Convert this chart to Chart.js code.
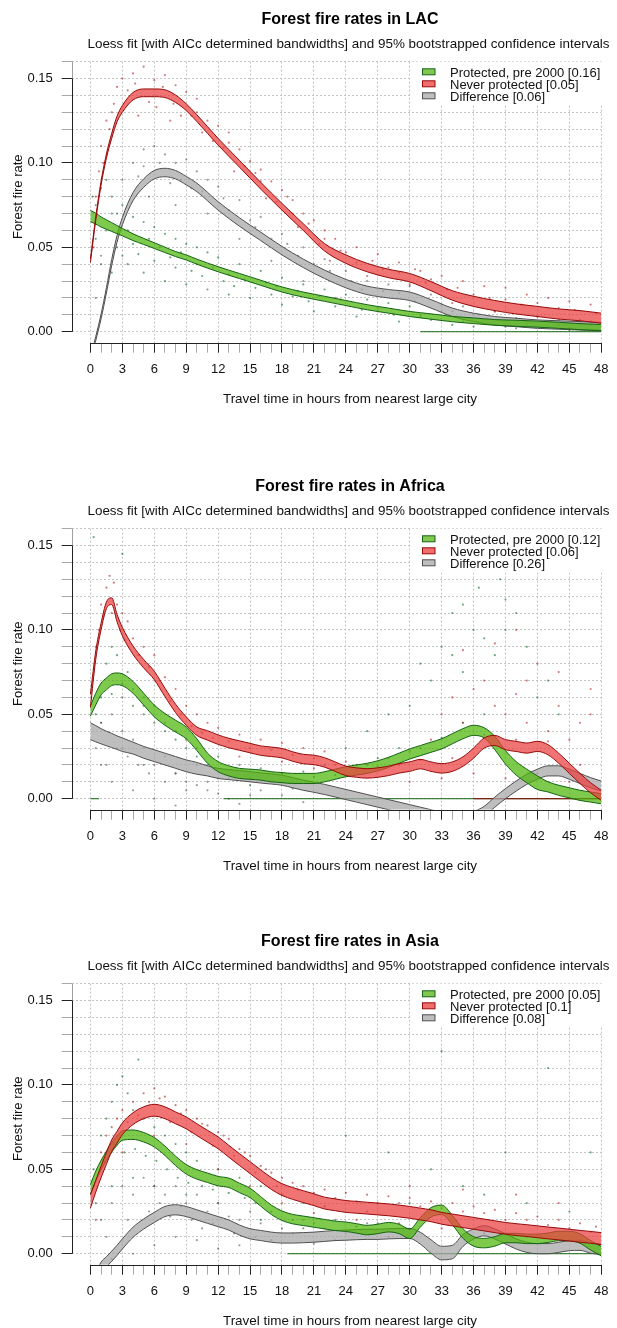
<!DOCTYPE html>
<html>
<head>
<meta charset="utf-8">
<script src="https://cdn.jsdelivr.net/npm/chart.js@4.4.1/dist/chart.umd.min.js"></script>
<style>
  html, body { margin: 0; padding: 0; background: #fff; overflow: hidden; }
  .panel { position: absolute; left: 0; width: 617px; height: 460px; }
</style>
</head>
<body>
<div class="panel" style="top:0px"><canvas id="lac" width="617" height="460"></canvas></div>
<div class="panel" style="top:467px"><canvas id="africa" width="617" height="460"></canvas></div>
<div class="panel" style="top:922px"><canvas id="asia" width="617" height="460"></canvas></div>
<script>
// ---- axis ticks ----
const xTickValues = [0,1,2,3,4,5,6,7,8,9,10,11,12,13,14,15,16,17,18,19,20,21,22,23,24,
  25,26,27,28,29,30,31,32,33,34,35,36,37,38,39,40,41,42,43,44,45,46,47,48];
const yTickValues = [0,0.01,0.02,0.03,0.04,0.05,0.06,0.07,0.08,0.09,0.1,0.11,0.12,0.13,0.14,0.15,0.16];
const yTickLabels = ['0.00','','','','','0.05','','','','','0.10','','','','','0.15',''];

// ---- LAC ----
const lacHours = [0,0.5,1,1.5,2,2.5,3,4,5,6,7,8,9,10,12,14,16,18,20,22,24,26,28,30,32,34,36,38,40,42,44,46,48];
const lacGreenMid = [0.0685,0.067,0.065,0.0635,0.062,0.0605,0.059,0.056,0.0535,0.051,0.0485,0.046,0.044,0.0415,0.037,0.033,
  0.029,0.025,0.022,0.0195,0.017,0.0145,0.0125,0.0105,0.009,0.0075,0.0065,0.0055,0.005,0.0045,0.0038,0.003,0.0025];
const lacGreenHalf = [0.0033,0.0032,0.003,0.0028,0.0026,0.0024,0.0022,0.002,0.0018,0.0017,0.0016,0.0015,0.0015,0.0015,0.0015,0.0015,
  0.0015,0.0015,0.0015,0.0015,0.0015,0.0015,0.0015,0.0015,0.0016,0.0016,0.0017,0.0017,0.0018,0.0018,0.0018,0.0018,0.0018];
const lacRedMid = [0.042,0.067,0.088,0.104,0.116,0.126,0.132,0.1395,0.1415,0.1415,0.141,0.138,0.133,0.1265,0.1125,0.0995,
  0.0865,0.074,0.062,0.05,0.043,0.038,0.0345,0.032,0.027,0.0215,0.018,0.0155,0.0135,0.012,0.0105,0.0095,0.008];
const lacRedHalf = [0.001,0.001,0.0012,0.0013,0.0015,0.0017,0.002,0.0022,0.0023,0.0023,0.0023,0.0022,0.002,0.002,0.002,0.002,
  0.002,0.002,0.002,0.0022,0.0025,0.0025,0.0025,0.0025,0.0027,0.0028,0.003,0.003,0.003,0.003,0.003,0.003,0.003];
const lacGreyMid = [-0.016,-0.004,0.009,0.0245,0.041,0.055,0.0655,0.08,0.088,0.093,0.0943,0.093,0.0895,0.0855,0.0745,0.065,
  0.0565,0.048,0.0405,0.034,0.0285,0.0245,0.0225,0.021,0.0165,0.0115,0.0085,0.0065,0.0055,0.0045,0.004,0.0035,0.003];
const lacGreyHalf = [0.001,0.0012,0.0014,0.0016,0.0018,0.002,0.0022,0.0024,0.0025,0.0025,0.0025,0.0025,0.0025,0.0025,0.0025,0.0025,
  0.0025,0.0025,0.0025,0.0025,0.0025,0.0025,0.0025,0.0025,0.0025,0.0025,0.0025,0.0025,0.0025,0.0025,0.0025,0.0025,0.0025];
const lacGreenZero = [31, 48];
const lacRedZero = [];
const lacRedDots = [[0.5,0.08],[1,0.11],[1.5,0.125],[2,0.13],[2.5,0.145],[3,0.15],[4,0.153],[5,0.157],[6,0.149],[7,0.152],
  [8,0.146],[9,0.142],[10,0.138],[11,0.125],[12,0.122],[13,0.118],[14,0.108],[15,0.101],[16,0.096],[17,0.089],[18,0.084],
  [19,0.078],[20,0.07],[21,0.066],[22,0.06],[23,0.055],[25,0.05],[27,0.046],[29,0.041],[31,0.036],[33,0.033],[35,0.03],
  [37,0.027],[39,0.026],[41,0.022],[43,0.02],[45,0.018],[47,0.016],[4.5,0.128],[7.5,0.125],[10.5,0.118],[13.5,0.095],
  [16.5,0.079],[19.5,0.062],[22.5,0.042],[26,0.033],[30,0.028],[34,0.017],[38,0.012],[42,0.009],[46,0.006],
  [0.3,0.05],[0.8,0.095],[1.2,0.1],[1.8,0.12],[2.2,0.135],[3.5,0.143],[4.2,0.147],[5.5,0.136],[6.2,0.133],[6.8,0.145],
  [7.8,0.135],[8.5,0.128],[9.5,0.128],[10,0.13],[11.5,0.113],[12.5,0.109],[13,0.112],[14.5,0.098],[15.5,0.094],
  [16,0.089],[17.5,0.077],[18.5,0.08],[19,0.07],[20.5,0.064],[21.5,0.052],[22,0.055],[23.5,0.048],[24,0.047],
  [25,0.041],[26.5,0.042],[27.5,0.037],[28,0.038],[29,0.035],[30.5,0.037],[31.5,0.029],[32,0.031],[33.5,0.025],
  [34.5,0.026],[36,0.022],[37.5,0.02],[39,0.019],[40.5,0.016],[42,0.017],[44,0.014],[45.5,0.013],[47.5,0.011]];
const lacGreyDots = [[0.5,0.02],[1,0.045],[2,0.07],[3,0.09],[4,0.1],[5,0.108],[6,0.11],[7,0.105],[8,0.1],[9,0.102],[10,0.095],
  [11,0.09],[12,0.086],[14,0.078],[16,0.068],[18,0.058],[20,0.05],[22,0.043],[24,0.036],[26,0.03],[28,0.028],[30,0.027],
  [32,0.022],[35,0.015],[38,0.012],[42,0.009],[46,0.007],[3.5,0.06],[5.5,0.08],[8,0.075],[11,0.07],[14,0.055],[17,0.042],
  [20,0.03],[23,0.02],[27,0.014],[31,0.01],[36,0.003],[40,0.002],[45,0.001],
  [4.5,0.092],[5,0.098],[6.5,0.1],[7.5,0.088],[8.5,0.09],[9.5,0.085],[10.5,0.083],[12.5,0.079],[13,0.072],[15,0.066],
  [15.5,0.062],[17,0.055],[18.5,0.052],[19.5,0.045],[21,0.04],[22.5,0.036],[24.5,0.03],[25.5,0.025],[27.5,0.024],
  [29,0.023],[30.5,0.018],[33,0.016],[34,0.012],[36.5,0.01],[39,0.007],[41,0.006],[44,0.004],[47,0.004]];
const lacGreenDots = [[0.2,0.08],[0.5,0.075],[1,0.085],[1.5,0.09],[2,0.08],[2.5,0.07],[3,0.075],[4,0.068],[5,0.065],[6,0.062],
  [7,0.058],[8,0.055],[9,0.052],[10,0.05],[11,0.047],[12,0.044],[14,0.04],[16,0.036],[18,0.032],[20,0.028],[22,0.025],
  [24,0.022],[26,0.019],[28,0.017],[30,0.015],[33,0.012],[36,0.01],[40,0.008],[44,0.007],[47,0.006],[1,0.04],[2,0.035],
  [3.5,0.04],[5,0.035],[7,0.03],[9,0.028],[11,0.025],[13,0.022],[15,0.02],[18,0.016],[21,0.012],[25,0.009],[29,0.006],
  [34,0.004],[39,0.003],[45,0.002],
  [0.5,0.055],[1.5,0.06],[2.5,0.05],[3,0.045],[4,0.052],[4.5,0.046],[5.5,0.055],[6,0.042],[6.5,0.05],[7.5,0.044],
  [8,0.038],[8.5,0.047],[9.5,0.036],[10,0.04],[10.5,0.033],[11.5,0.038],[12.5,0.03],[13,0.034],[13.5,0.027],[14.5,0.031],
  [15.5,0.026],[16.5,0.029],[17,0.022],[17.5,0.027],[19,0.021],[19.5,0.024],[20.5,0.018],[21.5,0.021],[23,0.015],
  [23.5,0.019],[25.5,0.013],[27,0.012],[28.5,0.01],[31,0.009],[32,0.007],[35,0.006],[37,0.005],[41,0.004],[43,0.003]];
const lacLegend = ['Protected, pre 2000 [0.16]', 'Never protected [0.05]', 'Difference [0.06]'];

// ---- Africa ----
const africaHours = [0,0.5,1,1.5,2,2.5,3,4,5,6,7,8,9,10,11,12,13,14,15,16,17,18,19,20,21,22,23,24,25,26,27,28,29,30,
  31,32,33,34,35,36,37,38,39,40,41,42,43,44,45,46,47,48];
const africaGreenMid = [0.052,0.059,0.065,0.068,0.0705,0.071,0.0705,0.066,0.059,0.052,0.047,0.043,0.039,0.032,0.024,0.019,
  0.0165,0.015,0.0145,0.014,0.013,0.0125,0.012,0.012,0.012,0.013,0.0145,0.016,0.017,0.018,0.0195,0.0215,0.024,0.0265,
  0.0285,0.0305,0.0325,0.0355,0.0385,0.0405,0.039,0.033,0.0245,0.018,0.0135,0.0095,0.007,0.005,0.0035,0.002,0.001,0];
const africaGreenHalf = [0.003,0.0035,0.0035,0.0035,0.0035,0.0035,0.0035,0.0035,0.0035,0.0035,0.0035,0.0035,0.0035,0.0035,
  0.003,0.003,0.003,0.003,0.003,0.003,0.003,0.003,0.003,0.003,0.003,0.003,0.003,0.003,0.003,0.003,0.003,0.003,0.003,0.003,
  0.003,0.003,0.003,0.003,0.003,0.003,0.003,0.004,0.004,0.004,0.004,0.004,0.003,0.003,0.003,0.003,0.003,0.003];
const africaRedMid = [0.058,0.085,0.102,0.1145,0.117,0.107,0.099,0.088,0.08,0.073,0.063,0.0535,0.046,0.04,0.0375,0.035,
  0.033,0.0315,0.03,0.0285,0.0278,0.027,0.025,0.0235,0.023,0.0215,0.019,0.0165,0.0155,0.015,0.0155,0.0165,0.018,0.019,
  0.0205,0.019,0.018,0.019,0.022,0.027,0.033,0.0345,0.032,0.031,0.03,0.031,0.029,0.024,0.018,0.012,0.0065,0.002];
const africaRedHalf = [0.004,0.0025,0.002,0.002,0.002,0.0022,0.0025,0.0025,0.0025,0.0025,0.0025,0.0025,0.0025,0.0025,
  0.0028,0.0028,0.0028,0.0028,0.0028,0.0028,0.0028,0.0028,0.0028,0.0028,0.0028,0.0028,0.0028,0.0028,0.0028,0.0028,0.0028,
  0.0028,0.0028,0.0028,0.0028,0.0028,0.0028,0.0028,0.0028,0.003,0.003,0.003,0.003,0.003,0.003,0.003,0.003,0.003,0.003,
  0.003,0.003,0.003];
const africaGreyMid = [0.04,0.0385,0.037,0.0357,0.0345,0.0332,0.032,0.03,0.0275,0.0255,0.0235,0.0215,0.0195,0.018,0.0165,
  0.015,0.0143,0.0137,0.013,0.0123,0.0117,0.011,0.0095,0.008,0.0068,0.0055,0.004,0.0025,0.001,-0.0005,-0.002,-0.0035,
  -0.005,-0.0065,-0.008,-0.0095,-0.011,-0.012,-0.012,-0.0105,-0.0075,-0.002,0.003,0.0075,0.0115,0.0145,0.0165,0.0165,
  0.0145,0.012,0.0095,0.0075];
const africaGreyHalf = [0.005,0.0048,0.0045,0.0043,0.0042,0.004,0.004,0.0035,0.0035,0.0035,0.0035,0.0035,0.0035,0.0035,
  0.003,0.003,0.003,0.003,0.003,0.003,0.003,0.003,0.003,0.003,0.003,0.003,0.003,0.003,0.003,0.003,0.003,0.003,0.003,0.003,
  0.003,0.003,0.003,0.003,0.003,0.003,0.003,0.003,0.003,0.003,0.003,0.003,0.003,0.003,0.003,0.003,0.003,0.003];
const africaGreenZero = [0, 0.8, 12.5, 48];
const africaRedZero = [36, 48];
const africaRedDots = [[0.5,0.09],[1,0.115],[1.5,0.125],[1.8,0.132],[2.2,0.128],[2.5,0.115],[3,0.11],[3.5,0.105],[4,0.095],
  [5,0.09],[6,0.085],[7,0.072],[8,0.065],[9,0.055],[10,0.05],[11,0.045],[12,0.042],[14,0.038],[16,0.035],[18,0.033],
  [20,0.03],[22,0.028],[24,0.022],[26,0.02],[28,0.024],[30,0.028],[32,0.035],[33,0.05],[34,0.06],[35,0.045],[36,0.065],
  [37,0.07],[38,0.055],[39,0.05],[40,0.062],[41,0.045],[42,0.08],[43,0.04],[44,0.055],[45,0.035],[46,0.045],[47,0.05],
  [30,0.01],[33,0.012],[36,0.015],[39,0.012],[42,0.015],[45,0.01],[14,0.025],[18,0.022],[21,0.018],
  [0.8,0.1],[1.2,0.108],[2,0.11],[2.8,0.1],[3.2,0.094],[4.5,0.085],[5.5,0.078],[6.5,0.07],[7.5,0.058],[8.5,0.05],
  [9.5,0.043],[10.5,0.039],[11.5,0.036],[13,0.034],[15,0.03],[17,0.029],[19,0.026],[21,0.024],[23,0.02],[25,0.017],
  [27,0.019],[29,0.02],[31,0.023],[34,0.024],[37,0.038],[40,0.035],[43,0.034],[46,0.02],[35,0.088],[38,0.092],
  [41,0.07],[44,0.075],[47,0.065],[40,0.1]];
const africaGreenDots = [[0.3,0.155],[0.5,0.05],[1,0.06],[1.5,0.08],[2,0.09],[2.5,0.085],[3,0.145],[3.5,0.075],[4,0.065],
  [5,0.06],[6,0.055],[7,0.045],[8,0.04],[9,0.035],[10,0.03],[12,0.025],[14,0.02],[16,0.018],[18,0.015],[20,0.016],
  [22,0.02],[24,0.03],[26,0.04],[28,0.05],[30,0.055],[31,0.08],[32,0.07],[33,0.09],[34,0.085],[35,0.075],[36,0.1],
  [37,0.095],[38,0.085],[39,0.1],[40,0.11],[41,0.09],[42,0.06],[43,0.07],[44,0.05],[36.5,0.125],[38.5,0.13],[3,0.03],
  [5,0.02],[8,0.015],[11,0.01],[15,0.008],[19,0.006],
  [1,0.045],[2,0.062],[3,0.068],[4,0.055],[5,0.05],[6,0.045],[7,0.04],[8,0.035],[9,0.03],[10,0.025],[11,0.02],
  [13,0.012],[15,0.012],[17,0.01],[19,0.01],[21,0.013],[23,0.014],[25,0.02],[27,0.024],[29,0.03],[31,0.03],[33,0.036],
  [35,0.045],[37,0.05],[34,0.11],[35,0.115],[39,0.118]];
const africaGreyDots = [[0.5,0.03],[1,0.045],[1.5,0.02],[2,0.05],[3,0.04],[4,0.035],[5,0.03],[6,0.02],[7,0.025],[8,0.015],
  [9,0.01],[10,0.008],[11,0.005],[12,0.003],[13,0],[14,-0.003],[16,0.005],[18,0.002],[20,-0.002],[2,0.01],[4,0.005],
  [6,0],[8,-0.004],[3,0.06],[5,0.055],[1,0.02],[2.5,0.03],[3.5,0.025],[4.5,0.02],[5.5,0.015],[7,0.01],[9,0.005],
  [10,0.02],[12,0.012],[15,0.002]];
const africaLegend = ['Protected, pre 2000 [0.12]', 'Never protected [0.06]', 'Difference [0.26]'];

// ---- Asia ----
const asiaHours = africaHours;
const asiaGreenMid = [0.038,0.046,0.0525,0.058,0.063,0.067,0.07,0.0705,0.069,0.066,0.061,0.055,0.05,0.047,0.045,0.043,
  0.042,0.039,0.036,0.031,0.026,0.0225,0.0205,0.0195,0.0185,0.0175,0.0165,0.016,0.015,0.014,0.0147,0.0157,0.0147,0.0118,
  0.0186,0.0245,0.026,0.02,0.012,0.0073,0.0063,0.0073,0.0093,0.0093,0.0088,0.0088,0.0095,0.0105,0.0105,0.009,0.005,0.0015];
const asiaGreenHalf = [0.003,0.003,0.0028,0.0028,0.0028,0.0028,0.0028,0.0028,0.0028,0.0028,0.0028,0.0028,0.0028,0.0028,
  0.0028,0.0028,0.0028,0.0028,0.0028,0.0028,0.0028,0.0028,0.0028,0.0028,0.0028,0.0028,0.0028,0.0028,0.0028,0.0028,0.0028,
  0.0028,0.0028,0.0028,0.0028,0.0028,0.0028,0.0028,0.0028,0.0028,0.0028,0.0028,0.0028,0.0028,0.0028,0.0028,0.0028,0.0028,
  0.0028,0.0028,0.0028,0.0028];
const asiaRedMid = [0.031,0.04,0.0485,0.0565,0.064,0.069,0.074,0.08,0.0835,0.085,0.0835,0.0805,0.0775,0.0735,0.0696,
  0.0657,0.0607,0.0558,0.051,0.0462,0.0416,0.038,0.0357,0.0338,0.032,0.03,0.029,0.028,0.0275,0.027,0.0265,0.026,0.0253,
  0.0245,0.0235,0.0225,0.021,0.02,0.019,0.018,0.017,0.016,0.015,0.0143,0.0137,0.013,0.0123,0.0117,0.011,0.0103,0.0097,0.009];
const asiaRedHalf = [0.004,0.0035,0.0035,0.0035,0.0035,0.0035,0.0035,0.0035,0.0035,0.0035,0.0035,0.0035,0.0035,0.0035,
  0.0035,0.0035,0.0035,0.0035,0.0035,0.0035,0.0035,0.0035,0.0035,0.0035,0.0035,0.0035,0.0035,0.0035,0.0035,0.0035,0.0035,
  0.0035,0.0035,0.0035,0.0035,0.0035,0.0035,0.0035,0.0035,0.0035,0.0035,0.0035,0.0035,0.0035,0.0035,0.0035,0.0035,0.0035,
  0.0035,0.0035,0.0035,0.0035];
const asiaGreyMid = [-0.022,-0.015,-0.008,-0.0048,-0.0015,0.002,0.0058,0.0127,0.0176,0.0215,0.025,0.026,0.025,0.023,0.021,
  0.019,0.017,0.014,0.0118,0.0108,0.0098,0.0093,0.0093,0.0095,0.0098,0.0103,0.0108,0.011,0.0113,0.0115,0.0115,0.0118,0.012,
  0.012,0.0092,0.0043,0.0004,0.001,0.0078,0.0117,0.0136,0.0117,0.0088,0.0058,0.0038,0.003,0.003,0.0038,0.0048,0.005,
  0.0033,0.0025];
const asiaGreyHalf = [0.003,0.003,0.003,0.003,0.003,0.003,0.003,0.003,0.003,0.003,0.003,0.003,0.003,0.003,0.003,0.003,
  0.003,0.003,0.003,0.003,0.003,0.003,0.003,0.003,0.003,0.003,0.003,0.003,0.003,0.003,0.003,0.003,0.003,0.003,0.0035,
  0.004,0.004,0.004,0.0035,0.003,0.003,0.003,0.003,0.003,0.003,0.003,0.003,0.003,0.003,0.003,0.003,0.003];
const asiaGreenZero = [18.5, 48];
const asiaRedZero = [];
const asiaRedDots = [[0.3,0.04],[0.5,0.02],[1,0.06],[1.5,0.07],[2,0.075],[2.5,0.08],[3,0.085],[4,0.09],[5,0.095],[6,0.098],
  [7,0.093],[8,0.088],[9,0.085],[10,0.08],[11,0.076],[12,0.072],[13,0.068],[14,0.062],[15,0.058],[16,0.052],[17,0.048],
  [18,0.045],[19,0.042],[20,0.04],[22,0.038],[24,0.036],[26,0.035],[28,0.034],[30,0.033],[32,0.031],[34,0.03],[36,0.028],
  [38,0.026],[40,0.024],[42,0.022],[44,0.02],[46,0.018],[47.5,0.016],[3,0.06],[6,0.07],[9,0.065],[12,0.05],[15,0.04],
  [18,0.03],[21,0.024],[25,0.02],[29,0.018],[33,0.015],[37,0.012],[41,0.01],[45,0.008],
  [3.5,0.078],[4.5,0.082],[5.5,0.09],[6.5,0.092],[7.5,0.078],[8.5,0.083],[9.5,0.072],[10.5,0.077],[11.5,0.064],
  [12.5,0.07],[13.5,0.058],[14.5,0.06],[15.5,0.048],[16.5,0.05],[17.5,0.04],[19.5,0.038],[21,0.036],[23,0.033],
  [25,0.031],[27,0.03],[29,0.03],[31,0.028],[33,0.027],[35,0.025],[37,0.024],[39,0.02],[41,0.02],[43,0.017],[45,0.015],
  [47,0.013],[30,0.04],[35,0.038],[40,0.035],[44,0.03]];
const asiaGreenDots = [[0.3,0.05],[0.5,0.03],[1,0.07],[1.5,0.08],[2,0.09],[2.5,0.1],[3,0.105],[3.5,0.095],[4,0.085],
  [4.5,0.115],[5,0.08],[6,0.075],[7,0.07],[8,0.065],[9,0.06],[10,0.055],[12,0.05],[14,0.045],[16,0.04],[18,0.035],
  [20,0.03],[22,0.028],[24,0.07],[26,0.025],[28,0.06],[30,0.03],[32,0.05],[33,0.12],[35,0.04],[37,0.035],[39,0.06],
  [41,0.03],[43,0.11],[45,0.025],[47,0.06],[2,0.04],[4,0.045],[6,0.04],[9,0.035],[12,0.03],[16,0.02],[20,0.015],
  [1.2,0.055],[2.2,0.065],[3.2,0.06],[4.2,0.062],[5.2,0.058],[6.2,0.055],[7.2,0.05],[8.2,0.045],[9.2,0.042],[10.5,0.04],
  [11.5,0.038],[13,0.036],[14.5,0.033],[15.5,0.03],[17,0.025],[19,0.02],[21,0.018],[23,0.02],[25,0.016],[27,0.018]];
const asiaGreyDots = [[1,0.02],[1.5,0.01],[2,0.03],[3,0.04],[4,0.035],[5,0.045],[6,0.04],[7,0.035],[8,0.04],[9,0.03],
  [10,0.035],[11,0.025],[12,0.03],[13,0.022],[14,0.02],[15,0.025],[16,0.018],[18,0.015],[20,0.02],[22,0.015],[24,0.012],
  [26,0.018],[28,0.01],[2,-0.003],[4,0],[6,0.005],[8,0.01],[10,0.008],[12,0.003],[14,0.005],
  [3.5,0.02],[5.5,0.025],[6.5,0.03],[7.5,0.022],[8.5,0.028],[9.5,0.02],[10.5,0.015],[11.5,0.018],[13.5,0.012],
  [15.5,0.01],[17,0.008],[19,0.012],[21,0.006],[23,0.008]];
const asiaLegend = ['Protected, pre 2000 [0.05]', 'Never protected [0.1]', 'Difference [0.08]'];

// ---- styling ----
const FONT = "'Liberation Sans', Arial, Helvetica, sans-serif";
Chart.defaults.font.family = FONT;
Chart.defaults.font.size = 13;
Chart.defaults.color = '#111';

const green = { fill: 'rgba(75,182,8,0.72)', edge: 'rgb(20,100,20)', key: 'rgb(130,200,80)', dot: 'rgba(20,110,40,0.6)' };
const red = { fill: 'rgba(235,62,62,0.72)', edge: 'rgb(150,10,10)', key: 'rgb(240,110,110)', dot: 'rgba(170,20,20,0.55)' };
const grey = { fill: 'rgba(168,168,168,0.75)', edge: 'rgb(80,80,80)', key: 'rgb(190,190,190)', dot: 'rgba(60,60,60,0.5)' };
const gridGrey = '#c4c4c4';

function band(label, hours, mid, half, col, order) {
  const lo = hours.map((h, i) => ({ x: h, y: mid[i] - half[i] }));
  const hi = hours.map((h, i) => ({ x: h, y: mid[i] + half[i] }));
  const common = { borderColor: col.edge, borderWidth: 1, pointRadius: 0, order, cubicInterpolationMode: 'monotone' };
  return [
    Object.assign({ label: label + ' lower', data: lo, fill: false }, common),
    Object.assign({ label, data: hi, backgroundColor: col.fill, fill: '-1' }, common)
  ];
}

function dots(label, pts, col) {
  return { type: 'scatter', label, data: pts.map(p => ({ x: p[0], y: p[1] })), pointRadius: 1.1, pointBorderWidth: 0,
    pointBackgroundColor: col.dot, showLine: false, order: 9 };
}

function zeroLines(label, span, col) {
  const out = [];
  for (let i = 0; i < span.length; i += 2) {
    out.push({ label, data: [{ x: span[i], y: 0 }, { x: span[i + 1], y: 0 }], borderColor: col.edge,
      borderWidth: 1, pointRadius: 0, fill: false, order: 5 });
  }
  return out;
}

const decor = {
  id: 'decor',
  afterDraw(chart, args, opts) {
    const { ctx, chartArea: a, scales: { x, y } } = chart;
    const px = v => Math.round(v) + 0.5;
    const seg = (x1, y1, x2, y2) => { ctx.beginPath(); ctx.moveTo(x1, y1); ctx.lineTo(x2, y2); ctx.stroke(); };
    ctx.save();
    ctx.lineWidth = 1;
    // axis lines: light one over the full tick range, dark one over the labelled range
    ctx.strokeStyle = '#a0a0a0';
    seg(px(a.left), y.getPixelForValue(0), px(a.left), y.getPixelForValue(0.16));
    ctx.strokeStyle = '#222';
    seg(px(a.left), y.getPixelForValue(0), px(a.left), y.getPixelForValue(0.15));
    seg(x.getPixelForValue(0), px(a.bottom), x.getPixelForValue(48), px(a.bottom));

    // legend (white box over the grid, top right of the plot)
    const lx = 410, top = a.top;
    ctx.fillStyle = '#fff';
    ctx.fillRect(lx, top, chart.width - lx, 43.5);
    const cols = [green, red, grey];
    ctx.font = '13px ' + FONT;
    ctx.textAlign = 'left';
    ctx.textBaseline = 'middle';
    opts.legend.forEach((txt, i) => {
      const cy = top + 10.2 + i * 12;
      ctx.fillStyle = cols[i].key;
      ctx.fillRect(422.5, cy - 3, 12.5, 6);
      ctx.strokeStyle = cols[i].edge;
      ctx.strokeRect(422.5, cy - 3, 12.5, 6);
      ctx.fillStyle = '#111';
      ctx.fillText(txt, 450, cy + 1.8);
    });

    // titles
    ctx.textAlign = 'center';
    ctx.fillStyle = '#000';
    ctx.font = 'bold 16px ' + FONT;
    ctx.fillText(opts.title, 350, 20);
    ctx.font = '13.45px ' + FONT;
    ctx.fillStyle = '#111';
    ctx.fillText('Loess fit [with AICc determined bandwidths] and 95% bootstrapped confidence intervals', 348.5, 44.3);
    ctx.fillText('Travel time in hours from nearest large city', 350, a.bottom + 56.8);
    ctx.font = '13px ' + FONT;
    ctx.translate(18, (y.getPixelForValue(0) + y.getPixelForValue(0.16)) / 2);
    ctx.rotate(-Math.PI / 2);
    ctx.fillText('Forest fire rate', 0, 0);
    ctx.restore();
  }
};

function makeChart(id, title, legend, hours, g, gh, r, rh, d, dh, gz, rz, rd, dd, gd) {
  const datasets = [].concat(
    band('Never protected', hours, r, rh, red, 1),
    band('Protected, pre 2000', hours, g, gh, green, 2),
    band('Difference', hours, d, dh, grey, 3),
    zeroLines('zero red', rz, red),
    zeroLines('zero green', gz, green),
    [dots('red pts', rd, red), dots('grey pts', dd, grey), dots('green pts', gd, green)]
  );
  return new Chart(document.getElementById(id), {
    type: 'line',
    data: { datasets },
    options: {
      responsive: false,
      animation: false,
      events: [],
      layout: { padding: { top: 61.6, right: 9, left: 0, bottom: 0 } },
      plugins: { legend: { display: false }, tooltip: { enabled: false }, decor: { title, legend } },
      scales: {
        x: {
          type: 'linear', min: -1.76, max: 48,
          afterBuildTicks: s => { s.ticks = xTickValues.map(v => ({ value: v })); },
          afterFit: s => { s.height = 117.3; },
          ticks: { autoSkip: false, maxRotation: 0, padding: 8.5, color: '#111',
            callback: v => (v % 3 === 0 ? String(v) : '') },
          grid: {
            color: c => (c.tick && c.tick.value % 3 === 0 ? gridGrey : 'rgba(0,0,0,0)'),
            tickColor: c => (c.tick && c.tick.value % 3 === 0 ? '#222' : '#a8a8a8'),
            tickLength: 10, tickBorderDash: []
          },
          border: { display: false, dash: [2, 2] }
        },
        y: {
          type: 'linear', min: -0.0065, max: 0.16,
          afterBuildTicks: s => { s.ticks = yTickValues.map(v => ({ value: v })); },
          afterFit: s => { s.width = 71.7; },
          ticks: { autoSkip: false, padding: 9, color: '#111',
            callback: (v, i) => yTickLabels[i] },
          grid: {
            color: gridGrey,
            tickColor: c => (yTickLabels[c.index] ? '#222' : '#a8a8a8'),
            tickLength: 10, tickBorderDash: []
          },
          border: { display: false, dash: [2, 2] }
        }
      }
    },
    plugins: [decor]
  });
}

makeChart('lac', 'Forest fire rates in LAC', lacLegend, lacHours, lacGreenMid, lacGreenHalf, lacRedMid, lacRedHalf,
  lacGreyMid, lacGreyHalf, lacGreenZero, lacRedZero, lacRedDots, lacGreyDots, lacGreenDots);
makeChart('africa', 'Forest fire rates in Africa', africaLegend, africaHours, africaGreenMid, africaGreenHalf,
  africaRedMid, africaRedHalf, africaGreyMid, africaGreyHalf, africaGreenZero, africaRedZero,
  africaRedDots, africaGreyDots, africaGreenDots);
makeChart('asia', 'Forest fire rates in Asia', asiaLegend, asiaHours, asiaGreenMid, asiaGreenHalf,
  asiaRedMid, asiaRedHalf, asiaGreyMid, asiaGreyHalf, asiaGreenZero, asiaRedZero,
  asiaRedDots, asiaGreyDots, asiaGreenDots);
</script>
</body>
</html>
